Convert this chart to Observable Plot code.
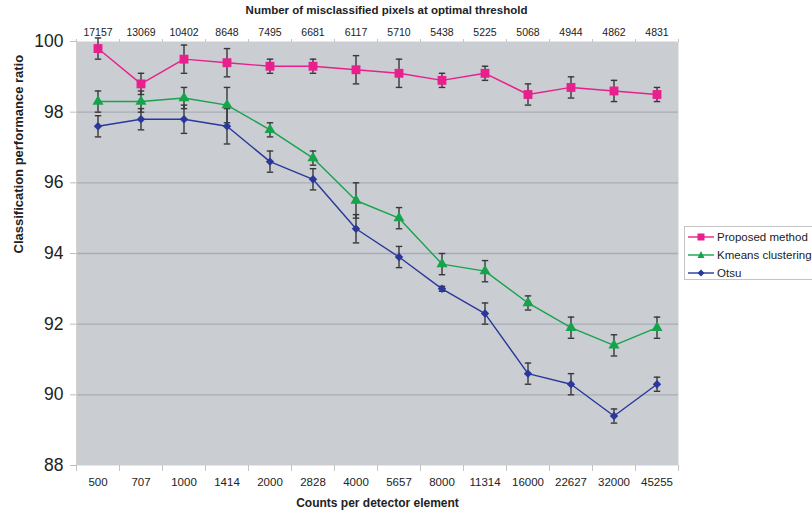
<!DOCTYPE html>
<html>
<head>
<meta charset="utf-8">
<script src="https://cdn.jsdelivr.net/npm/d3@7"></script>
<script src="https://cdn.jsdelivr.net/npm/@observablehq/plot@0.6"></script>
<style>
  html, body { margin: 0; padding: 0; background: #fff; overflow: hidden; }
  #wrap { position: relative; width: 812px; height: 513px; font-family: "Liberation Sans", Arial, sans-serif; }
  #legend { position: absolute; left: 684px; top: 226px; width: 150px; height: 54px; border: 1px solid #c4c4c4; background: #fff; box-sizing: border-box; padding-top: 1px; }
  .item { display: flex; align-items: center; height: 18px; font-size: 11.5px; color: #222; white-space: nowrap; }
  .item svg { margin-left: 3px; margin-right: 3px; }
</style>
</head>
<body>
<div id="wrap"></div>
<script>
const counts = ["500","707","1000","1414","2000","2828","4000","5657","8000","11314","16000","22627","32000","45255"];
const misclassified = ["17157","13069","10402","8648","7495","6681","6117","5710","5438","5225","5068","4944","4862","4831"];
const proposed    = [99.8, 98.8, 99.5, 99.4, 99.3, 99.3, 99.2, 99.1, 98.9, 99.1, 98.5, 98.7, 98.6, 98.5];
const proposedErr = [0.3, 0.3, 0.4, 0.4, 0.2, 0.2, 0.4, 0.4, 0.2, 0.2, 0.3, 0.3, 0.3, 0.2];
const kmeans      = [98.3, 98.3, 98.4, 98.2, 97.5, 96.7, 95.5, 95.0, 93.7, 93.5, 92.6, 91.9, 91.4, 91.9];
const kmeansErr   = [0.3, 0.3, 0.3, 0.5, 0.2, 0.2, 0.5, 0.3, 0.3, 0.3, 0.2, 0.3, 0.3, 0.3];
const otsu        = [97.6, 97.8, 97.8, 97.6, 96.6, 96.1, 94.7, 93.9, 93.0, 92.3, 90.6, 90.3, 89.4, 90.3];
const otsuErr     = [0.3, 0.3, 0.4, 0.5, 0.3, 0.3, 0.4, 0.3, 0.07, 0.3, 0.3, 0.3, 0.2, 0.2];
const seriesNames = ["Proposed method", "Kmeans clustering", "Otsu"];
const yTicks = [88, 90, 92, 94, 96, 98, 100];
const gridValues = [90, 92, 94, 96, 98];
const topTitle = "Number of misclassified pixels at optimal threshold";
const xTitle = "Counts per detector element";
const yTitle = "Classification performance ratio";

const colors = {"Proposed method": "#e81f8c", "Kmeans clustering": "#16a34c", "Otsu": "#29389a"};
const symbols = {"Proposed method": "square", "Kmeans clustering": "triangle", "Otsu": "diamond2"};
const radii = {"Proposed method": 5.0, "Kmeans clustering": 4.1, "Otsu": 3.8};

const rows = [];
[[seriesNames[0], proposed, proposedErr], [seriesNames[1], kmeans, kmeansErr], [seriesNames[2], otsu, otsuErr]].forEach(([name, vals, errs]) => {
  vals.forEach((v, i) => rows.push({series: name, xi: i + 0.5, v, lo: v - errs[i], hi: v + errs[i]}));
});
const centers = counts.map((_, i) => i + 0.5);
const bounds = d3.range(counts.length + 1);
const capHalf = 0.075;

const marks = [
  Plot.frame({fill: "#cacdd2", stroke: null}),
  Plot.ruleY(gridValues, {stroke: "#a9adb4", strokeWidth: 1.3}),
  Plot.ruleX([0], {stroke: "#d8cfcf", strokeWidth: 1}),
  Plot.axisY({ticks: yTicks, tickSize: 6, tickPadding: 7, fontSize: 17.5, stroke: "#c9b9b9", fill: "#222", label: null}),
  Plot.axisX({anchor: "bottom", ticks: centers, tickSize: 0, tickPadding: 12, fontSize: 11.5, fill: "#222",
              tickFormat: d => counts[Math.floor(d)], label: null}),
  Plot.axisX({anchor: "bottom", ticks: bounds, tickSize: 6, tickFormat: () => "", stroke: "#c4c4c4", label: null}),
  Plot.axisX({anchor: "top", ticks: centers, tickSize: 0, tickPadding: 6, fontSize: 10.5, fill: "#222",
              tickFormat: d => misclassified[Math.floor(d)], label: null}),
  Plot.axisX({anchor: "top", ticks: bounds, tickSize: 3, tickFormat: () => "", stroke: "#c4c4c4", label: null}),
  Plot.text([topTitle], {frameAnchor: "top", dy: -36, dx: 9, fontSize: 11.5, fontWeight: "bold", fill: "#222"}),
  Plot.text([xTitle], {frameAnchor: "bottom", dy: 41, fontSize: 12, fontWeight: "bold", fill: "#222"}),
  Plot.text([yTitle], {frameAnchor: "left", dx: -58, rotate: -90, fontSize: 13, fontWeight: "bold", fill: "#222"})
];
for (const name of seriesNames) {
  const d = rows.filter(r => r.series === name);
  marks.push(Plot.line(d, {x: "xi", y: "v", stroke: colors[name], strokeWidth: 1.4}));
}
for (const name of seriesNames) {
  const d = rows.filter(r => r.series === name);
  marks.push(Plot.ruleX(d, {x: "xi", y1: "lo", y2: "hi", stroke: "#383838", strokeWidth: 1.4}));
  marks.push(Plot.link(d, {x1: r => r.xi - capHalf, x2: r => r.xi + capHalf, y1: "lo", y2: "lo", stroke: "#383838", strokeWidth: 1.4}));
  marks.push(Plot.link(d, {x1: r => r.xi - capHalf, x2: r => r.xi + capHalf, y1: "hi", y2: "hi", stroke: "#383838", strokeWidth: 1.4}));
}
for (const name of seriesNames) {
  const d = rows.filter(r => r.series === name);
  marks.push(Plot.dot(d, {x: "xi", y: "v", symbol: symbols[name], r: radii[name], fill: colors[name], stroke: "none"}));
}

const chart = Plot.plot({
  width: 812,
  height: 513,
  marginLeft: 76,
  marginRight: 134,
  marginTop: 41,
  marginBottom: 48,
  style: {fontFamily: "'Liberation Sans', Arial, sans-serif", background: "#fff", color: "#222"},
  x: {type: "linear", domain: [0, counts.length], axis: null},
  y: {domain: [88, 100], axis: null},
  marks
});
const wrap = document.getElementById("wrap");
wrap.appendChild(chart);

// Legend (HTML)
const legend = document.createElement("div");
legend.id = "legend";
const symPaths = {
  "Proposed method": '<rect x="9.5" y="2.5" width="7" height="7"/>',
  "Kmeans clustering": '<polygon points="13,2 16.5,9 9.5,9"/>',
  "Otsu": '<polygon points="13,2.5 16.5,6 13,9.5 9.5,6"/>'
};
for (const name of seriesNames) {
  const item = document.createElement("div");
  item.className = "item";
  item.innerHTML = `<svg width="26" height="12"><line x1="0" x2="26" y1="6" y2="6" stroke="${colors[name]}" stroke-width="1.4"/><g fill="${colors[name]}">${symPaths[name]}</g></svg><span>${name}</span>`;
  legend.appendChild(item);
}
wrap.appendChild(legend);
</script>
</body>
</html>
